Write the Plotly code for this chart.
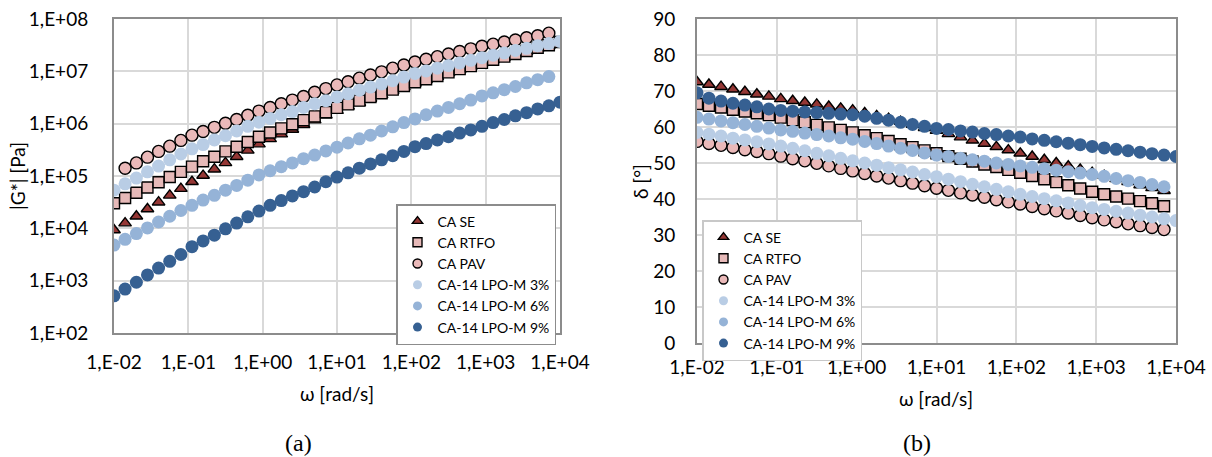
import plotly.graph_objects as go

# ---------------- data ----------------
W = [0.01, 0.0141, 0.02, 0.0282, 0.0398, 0.0562, 0.0794, 0.112, 0.158, 0.224,
     0.316, 0.447, 0.631, 0.891, 1.26, 1.78, 2.51, 3.55, 5.01, 7.08,
     10.0, 14.1, 20.0, 28.2, 39.8, 56.2, 79.4, 112, 158, 224,
     316, 447, 631, 891, 1260, 1780, 2510, 3550, 5010, 7080, 10000]

NAMES = ["CA SE", "CA RTFO", "CA PAV", "CA-14 LPO-M 3%", "CA-14 LPO-M 6%", "CA-14 LPO-M 9%"]

G_SE = [9.3e3, 1.26e4, 1.7e4, 2.34e4, 3.16e4, 4.27e4, 5.75e4, 7.76e4, 1.02e5, 1.35e5,
        1.78e5, 2.34e5, 3.09e5, 4.07e5, 5.13e5, 6.31e5, 7.76e5, 9.55e5, 1.17e6, 1.45e6,
        1.78e6, 2.14e6, 2.51e6, 3.02e6, 3.55e6, 4.27e6, 5.01e6, 5.89e6, 6.92e6, 7.94e6,
        9.33e6, 1.07e7, 1.23e7, 1.45e7, 1.66e7, 1.86e7, 2.14e7, 2.40e7, 2.75e7, 3.09e7, 3.55e7]
G_RTFO = [3.02e4, 3.80e4, 4.79e4, 6.03e4, 7.59e4, 9.55e4, 1.20e5, 1.51e5, 1.91e5, 2.34e5,
          2.95e5, 3.63e5, 4.47e5, 5.62e5, 6.76e5, 8.13e5, 9.77e5, 1.17e6, 1.38e6, 1.66e6,
          2.0e6, 2.34e6, 2.75e6, 3.24e6, 3.80e6, 4.47e6, 5.25e6, 6.17e6, 7.08e6, 8.13e6,
          9.55e6, 1.10e7, 1.26e7, 1.45e7, 1.66e7, 1.91e7, 2.14e7, 2.45e7, 2.82e7, 3.16e7, 3.63e7]
G_PAV = [None, 1.41e5, 1.78e5, 2.29e5, 2.95e5, 3.72e5, 4.79e5, 6.03e5, 7.08e5, 8.51e5,
         1.02e6, 1.20e6, 1.45e6, 1.74e6, 2.04e6, 2.40e6, 2.82e6, 3.31e6, 3.98e6, 4.68e6,
         5.50e6, 6.31e6, 7.41e6, 8.51e6, 9.77e6, 1.15e7, 1.32e7, 1.51e7, 1.70e7, 1.91e7,
         2.14e7, 2.40e7, 2.69e7, 3.02e7, 3.31e7, 3.63e7, 3.98e7, 4.37e7, 4.79e7, 5.37e7, None]
G_3 = [5.37e4, 7.08e4, 9.12e4, 1.20e5, 1.55e5, 2.04e5, 2.63e5, 3.31e5, 3.98e5, 4.90e5,
       5.89e5, 7.24e5, 8.91e5, 1.07e6, 1.26e6, 1.48e6, 1.70e6, 2.04e6, 2.40e6, 2.75e6,
       3.24e6, 3.72e6, 4.37e6, 5.01e6, 5.75e6, 6.61e6, 7.76e6, 9.12e6, 1.02e7, 1.15e7,
       1.29e7, 1.45e7, 1.62e7, 1.82e7, 2.04e7, 2.24e7, 2.51e7, 2.75e7, 3.09e7, 3.39e7, 3.72e7]
G_6 = [4.79e3, 6.17e3, 7.94e3, 1.02e4, 1.32e4, 1.70e4, 2.19e4, 2.75e4, 3.47e4, 4.27e4,
       5.37e4, 6.61e4, 8.32e4, 1.05e5, 1.26e5, 1.51e5, 1.78e5, 2.14e5, 2.51e5, 3.02e5,
       3.55e5, 4.27e5, 5.13e5, 6.03e5, 7.24e5, 8.71e5, 1.05e6, 1.23e6, 1.48e6, 1.74e6,
       2.04e6, 2.40e6, 2.82e6, 3.39e6, 3.89e6, 4.47e6, 5.13e6, 6.03e6, 6.92e6, 7.94e6, None]
G_9 = [5.13e2, 6.92e2, 9.33e2, 1.29e3, 1.74e3, 2.34e3, 3.16e3, 4.47e3, 5.75e3, 7.41e3,
       9.77e3, 1.26e4, 1.66e4, 2.14e4, 2.75e4, 3.39e4, 4.17e4, 5.01e4, 6.17e4, 7.76e4,
       9.55e4, 1.15e5, 1.41e5, 1.70e5, 2.04e5, 2.45e5, 2.95e5, 3.63e5, 4.17e5, 4.90e5,
       5.62e5, 6.61e5, 7.59e5, 8.91e5, 1.05e6, 1.20e6, 1.41e6, 1.62e6, 1.91e6, 2.19e6, 2.57e6]

D_SE = [72.5, 71.8, 71.2, 70.5, 69.8, 69.1, 68.5, 67.8, 67.3, 66.8,
        66.3, 65.7, 65.2, 64.7, 63.9, 63.1, 62.3, 61.5, 60.7, 59.8,
        59.0, 58.1, 57.2, 56.3, 55.4, 54.5, 53.6, 52.7, 51.8, 50.9,
        50.0, 49.1, 48.2, 47.3, 46.5, 45.6, 44.8, 43.9, 43.1, 42.3, None]
D_RTFO = [66.4, 65.9, 65.4, 64.8, 64.3, 63.8, 63.3, 62.6, 61.9, 61.3,
          60.6, 59.9, 59.2, 58.5, 57.7, 56.9, 56.1, 55.2, 54.4, 53.5,
          52.7, 51.9, 51.2, 50.4, 49.6, 48.9, 48.1, 47.3, 46.4, 45.5,
          44.7, 43.8, 42.9, 42.0, 41.3, 40.7, 40.1, 39.4, 38.8, 38.0, None]
D_PAV = [56.0, 55.4, 54.9, 54.3, 53.7, 53.2, 52.6, 51.9, 51.2, 50.6,
         49.9, 49.2, 48.5, 47.8, 47.1, 46.4, 45.8, 45.1, 44.4, 43.7,
         43.0, 42.4, 41.7, 41.1, 40.5, 39.8, 39.2, 38.6, 37.9, 37.3,
         36.7, 36.1, 35.4, 34.8, 34.2, 33.7, 33.1, 32.6, 32.1, 31.5, None]
D_3 = [58.5, 58.0, 57.5, 56.9, 56.4, 55.9, 55.3, 54.7, 54.1, 53.4,
       52.7, 52.0, 51.3, 50.6, 50.0, 49.4, 48.7, 48.1, 47.5, 46.8,
       46.2, 45.5, 44.8, 44.1, 43.4, 42.7, 42.0, 41.3, 40.7, 40.1,
       39.5, 38.9, 38.2, 37.6, 37.1, 36.6, 36.1, 35.5, 35.0, 34.5, 34.0]
D_6 = [62.7, 62.2, 61.7, 61.2, 60.7, 60.2, 59.7, 59.2, 58.8, 58.3,
       57.9, 57.5, 57.0, 56.6, 56.0, 55.4, 54.7, 54.1, 53.5, 52.8,
       52.2, 51.8, 51.3, 50.9, 50.5, 50.0, 49.6, 49.2, 48.8, 48.4,
       48.0, 47.6, 47.2, 46.8, 46.3, 45.7, 45.1, 44.6, 44.0, 43.4, None]
D_9 = [69.5, 68.0, 67.2, 66.6, 66.1, 65.6, 65.0, 64.6, 64.4, 64.2,
       64.0, 63.8, 63.6, 63.4, 63.0, 62.4, 61.9, 61.3, 60.7, 60.2,
       59.6, 59.3, 58.9, 58.6, 58.2, 57.9, 57.5, 57.2, 56.7, 56.3,
       55.9, 55.5, 55.1, 54.6, 54.2, 53.8, 53.4, 53.0, 52.6, 52.2, 51.8]

X_TICKS = [0.01, 0.1, 1, 10, 100, 1000, 10000]
X_TICK_TEXT = ["1,E-02", "1,E-01", "1,E+00", "1,E+01", "1,E+02", "1,E+03", "1,E+04"]
G_TICKS = [1e2, 1e3, 1e4, 1e5, 1e6, 1e7, 1e8]
G_TICK_TEXT = ["1,E+02", "1,E+03", "1,E+04", "1,E+05", "1,E+06", "1,E+07", "1,E+08"]
D_TICKS = [0, 10, 20, 30, 40, 50, 60, 70, 80, 90]

# ---------------- styles ----------------
SYMBOLS = ["triangle-up", "square", "circle", "circle", "circle", "circle"]
SIZES = [11, 11, 12, 13, 13, 13]
FILLS = ["#953735", "#e6b9b8", "#eab9b9", "#b9cde5", "#95b3d7", "#366092"]
EDGES = ["#000000", "#000000", "#000000", None, None, None]

def marker(i, size):
    m = dict(symbol=SYMBOLS[i], size=size, color=FILLS[i])
    if EDGES[i]:
        m["line"] = dict(color=EDGES[i], width=1.4)
    else:
        m["line"] = dict(width=0)
    return m

FONT = "Lato, 'Open Sans', sans-serif"
W_PX, H_PX = 1212, 457

fig = go.Figure()
G_ALL = [G_SE, G_RTFO, G_PAV, G_3, G_6, G_9]
D_ALL = [D_SE, D_RTFO, D_PAV, D_3, D_6, D_9]
for i, (name, g) in enumerate(zip(NAMES, G_ALL)):
    fig.add_trace(go.Scatter(x=W, y=g, mode="markers", name=name, marker=marker(i, SIZES[i]),
                             xaxis="x", yaxis="y", showlegend=False))
for i, (name, d) in enumerate(zip(NAMES, D_ALL)):
    fig.add_trace(go.Scatter(x=W, y=d, mode="markers", name=name, marker=marker(i, SIZES[i]),
                             xaxis="x2", yaxis="y2", showlegend=False))
# legend entries with small symbols, as in the reference
for i, name in enumerate(NAMES):
    fig.add_trace(go.Scatter(x=[None], y=[None], mode="markers", name=name,
                             marker=marker(i, 9), xaxis="x", yaxis="y", legend="legend"))
for i, name in enumerate(NAMES):
    fig.add_trace(go.Scatter(x=[None], y=[None], mode="markers", name=name,
                             marker=marker(i, 9), xaxis="x2", yaxis="y2", legend="legend2"))

axis_common = dict(showgrid=True, gridcolor="#d9d9d9", gridwidth=1.5,
                   showline=True, linecolor="#8c8c8c", linewidth=2, mirror=True,
                   ticks="", zeroline=False, automargin=False,
                   tickfont=dict(family=FONT, size=19, color="#000000"))

def px_x(p):
    return p / W_PX

def px_y(p):
    return 1 - p / H_PX

legend_font = dict(family=FONT, size=14, color="#000000")

def label(text, x, y, size=19, angle=0, family=FONT):
    return dict(text=text, x=px_x(x), y=px_y(y), xref="paper", yref="paper",
                xanchor="center", yanchor="middle", showarrow=False, textangle=angle,
                font=dict(family=family, size=size, color="#000000"))

fig.update_layout(
    width=W_PX, height=H_PX,
    margin=dict(l=0, r=0, t=0, b=0),
    paper_bgcolor="white", plot_bgcolor="white",
    font=dict(family=FONT, color="#000000"),
    xaxis=dict(type="log", range=[-2, 4], domain=[px_x(114), px_x(560)], anchor="y",
               tickvals=X_TICKS, ticktext=X_TICK_TEXT, ticklabelstandoff=11, **axis_common),
    yaxis=dict(type="log", range=[2, 8], domain=[px_y(333), px_y(19)], anchor="x",
               tickvals=G_TICKS, ticktext=G_TICK_TEXT, ticklabelstandoff=20, **axis_common),
    xaxis2=dict(type="log", range=[-2, 4], domain=[px_x(697), px_x(1176)], anchor="y2",
                tickvals=X_TICKS, ticktext=X_TICK_TEXT, ticklabelstandoff=6, **axis_common),
    yaxis2=dict(range=[0, 90], domain=[px_y(343), px_y(19)], anchor="x2",
                tickvals=D_TICKS, ticklabelstandoff=16, **axis_common),
    legend=dict(x=px_x(396), y=px_y(204), xanchor="left", yanchor="top",
                bgcolor="white", bordercolor="#8c8c8c", borderwidth=1.5,
                font=legend_font, tracegroupgap=0, itemwidth=30),
    legend2=dict(x=px_x(702), y=px_y(220), xanchor="left", yanchor="top",
                 bgcolor="white", bordercolor="#c8c8c8", borderwidth=1.5,
                 font=legend_font, tracegroupgap=0, itemwidth=30),
    annotations=[
        label("ω [rad/s]", 337, 393),
        label("ω [rad/s]", 936, 398),
        label("|G*| [Pa]", 18, 176, angle=-90),
        label("δ [°]", 640, 181, angle=-90),
        label("(a)", 298, 443, size=24, family="Liberation Serif, serif"),
        label("(b)", 917, 443, size=24, family="Liberation Serif, serif"),
    ],
)

fig.write_html("out.html", config={"displayModeBar": False},
               post_script="document.body.style.margin='0';document.body.style.overflow='hidden';")
